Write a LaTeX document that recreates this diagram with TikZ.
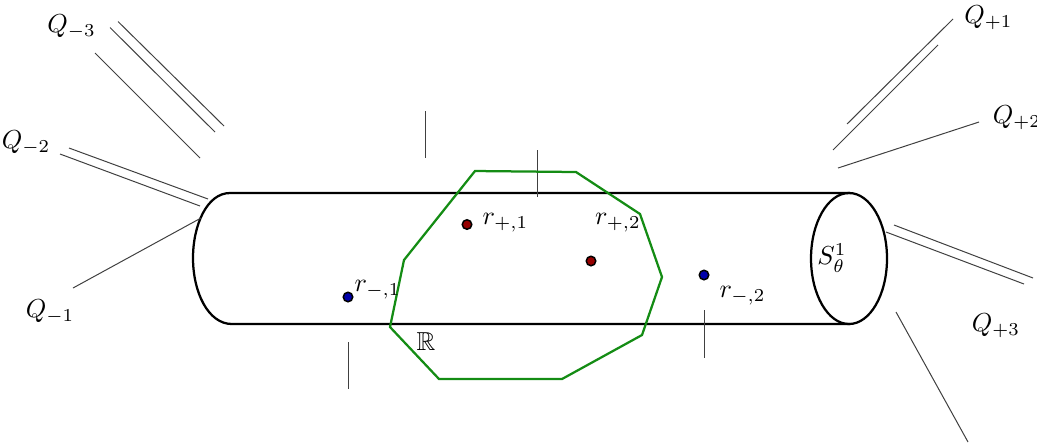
\documentclass[tikz,border=0pt]{standalone}
\usepackage{amssymb}
\definecolor{polygreen}{RGB}{20,140,20}
\definecolor{darkred}{RGB}{150,0,0}
\definecolor{darkblue}{RGB}{0,0,170}
\tikzset{
  thinline/.style={draw=black!75,line width=.4pt},
  body/.style={draw=black,line width=.9pt},
  poly/.style={draw=polygreen,line width=.9pt,line join=miter},
  reddot/.style={circle,draw=black,fill=darkred,line width=.6pt,inner sep=0pt,minimum size=3.8pt},
  bluedot/.style={circle,draw=black,fill=darkblue,line width=.6pt,inner sep=0pt,minimum size=3.8pt},
  lab/.style={inner sep=0pt,scale=1.04}
}
\begin{document}
\begin{tikzpicture}[x=.4pt,y=-.4pt]
\useasboundingbox (0,0) rectangle (1037,443);
% cylinder
\coordinate (tl) at (230,193);
\coordinate (tr) at (850,193);
\coordinate (bl) at (232,324);
\coordinate (br) at (850,324);
\draw[body] (tr) -- (tl) .. controls (207,193) and (193,225) .. (193,258) .. controls (193,292) and (208,324) .. (bl) -- (br);
\coordinate (cap) at (849,258.5);
\draw[body] (cap) ellipse [x radius=38,y radius=65.5];
% thin lines
\foreach \n/\ax/\ay/\bx/\by in {a/118/21.5/224/126, b/110/27.5/215/132, c/95/53/200/158, d/69/148/208/199, e/60/154/200/206, f/73/288/201/218, g/953/19/847/124, h/938/45/833/150, i/979/122/838/168, j/894/225/1033/278, k/886/232/1024/284, l/896/312/968/442, m/425/111/425/158, n/537/150/537/197, o/348/342/348/389, p/704/310/704/358}{
  \coordinate (\n1) at (\ax,\ay);
  \coordinate (\n2) at (\bx,\by);
  \draw[thinline] (\n1) -- (\n2);
}
% green polygon
\coordinate (p1) at (475,171);
\coordinate (p2) at (576,172);
\coordinate (p3) at (640,214);
\coordinate (p4) at (662,277);
\coordinate (p5) at (642,335);
\coordinate (p6) at (562,379);
\coordinate (p7) at (439,379);
\coordinate (p8) at (390,327);
\coordinate (p9) at (404,260);
\draw[poly] (p1) -- (p2) -- (p3) -- (p4) -- (p5) -- (p6) -- (p7) -- (p8) -- (p9) -- cycle;
% points
\node[reddot] (rp1) at (467,224.5) {};
\node[reddot] (rp2) at (591,261) {};
\node[bluedot] (rm1) at (348,297) {};
\node[bluedot] (rm2) at (704,275) {};
% labels
\node[lab] (lrp1) at (505.5,223) {$r_{+,1}$};
\node[lab] (lrp2) at (618,223) {$r_{+,2}$};
\node[lab] (lrm1) at (377.5,290) {$r_{-,1}$};
\node[lab] (lrm2) at (742.5,296) {$r_{-,2}$};
\node[lab] (lR) at (426,342) {$\mathbb{R}$};
\node[lab] (lS) at (832,258) {$S^1_\theta$};
\node[lab] (qm3) at (71.5,27) {$Q_{-3}$};
\node[lab] (qm2) at (26,143) {$Q_{-2}$};
\node[lab] (qm1) at (50,312) {$Q_{-1}$};
\node[lab] (qp1) at (988.5,18) {$Q_{+1}$};
\node[lab] (qp2) at (1017,118) {$Q_{+2}$};
\node[lab] (qp3) at (996,326) {$Q_{+3}$};
\end{tikzpicture}
\end{document}
